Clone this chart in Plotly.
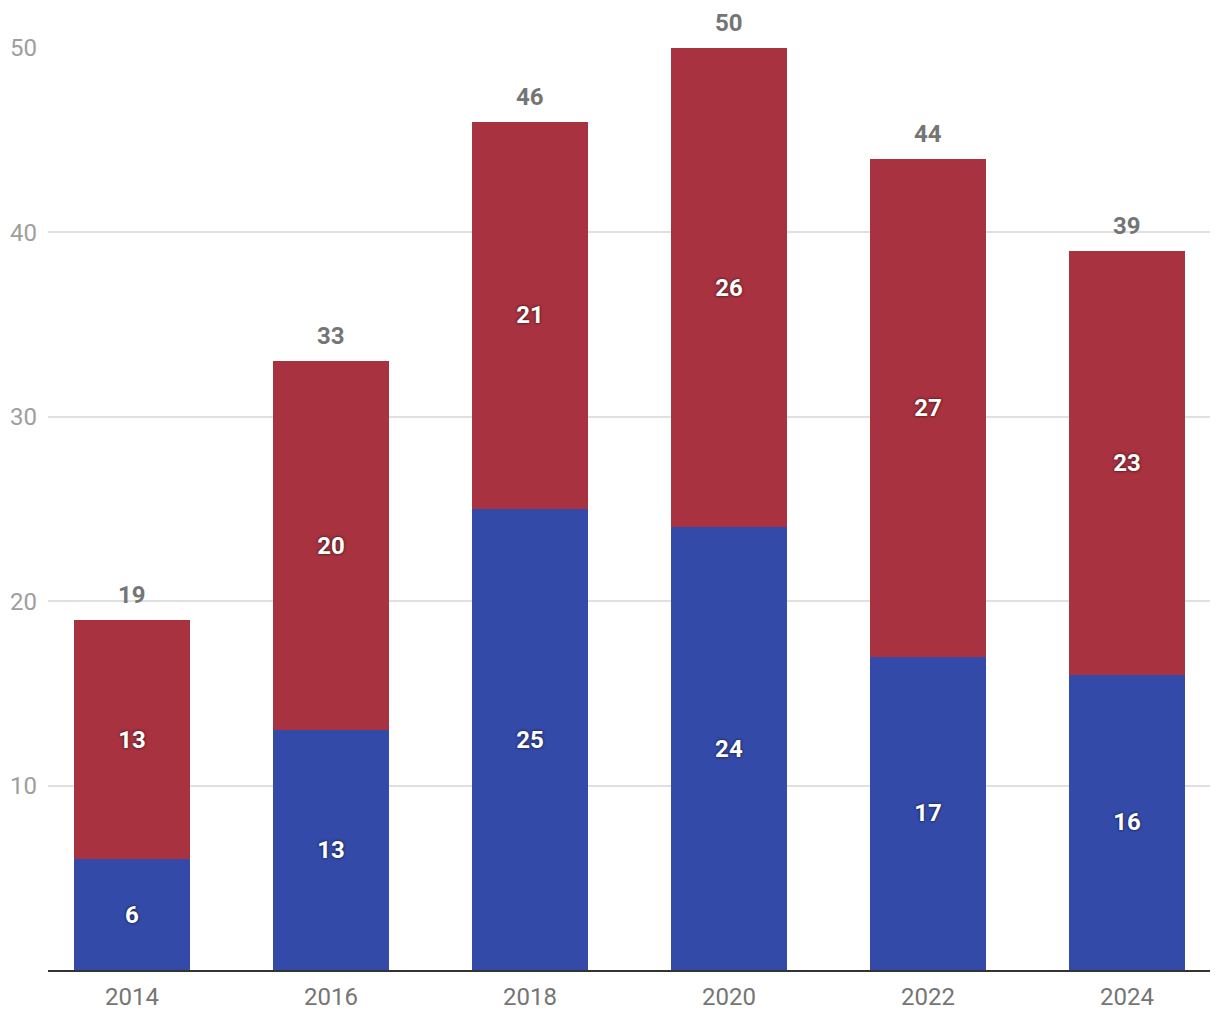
import plotly.graph_objects as go

years = ["2014", "2016", "2018", "2020", "2022", "2024"]
blue_vals = [6, 13, 25, 24, 17, 16]
red_vals = [13, 20, 21, 26, 27, 23]
totals = [b + r for b, r in zip(blue_vals, red_vals)]
x = list(range(len(years)))

RED = "#a8323f"
BLUE = "#334aa8"
shadow = "0px 0px 3px rgba(0,0,0,0.8)"
FS = 24

fig = go.Figure()
for vals, col in [(blue_vals, BLUE), (red_vals, RED)]:
    fig.add_trace(go.Bar(x=x, y=vals, marker=dict(color=col, line=dict(width=0)), width=0.58,
                         text=[str(v) for v in vals], textposition="inside",
                         insidetextanchor="middle", textangle=0,
                         textfont=dict(family="Roboto", size=FS, color="white", weight="bold", shadow=shadow),
                         hoverinfo="skip"))

for xi, t in zip(x, totals):
    fig.add_annotation(x=xi, y=t, text=str(t), showarrow=False, yanchor="middle",
                       yshift=25, font=dict(family="Roboto", size=FS, color="#757575", weight="bold"))

fig.update_layout(
    barmode="stack", width=1220, height=1020, showlegend=False,
    plot_bgcolor="white", paper_bgcolor="white",
    margin=dict(l=40, r=18, t=40, b=58),
    font=dict(family="Roboto"),
)
fig.update_xaxes(range=[-0.422, 5.417], tickvals=x, ticktext=years, showgrid=False,
                 showline=True, linecolor="#333333", linewidth=2, ticks="", automargin=False,
                 tickfont=dict(family="Roboto", size=FS, color="#757575"), zeroline=False,
                 ticklabelstandoff=4)
fig.update_yaxes(range=[0, 50], tickvals=[10, 20, 30, 40, 50], showgrid=True, automargin=False,
                 gridcolor="#e0e0e0", gridwidth=2, zeroline=False, showline=False,
                 tickfont=dict(family="Roboto", size=FS, color="#9e9e9e"), ticklabelstandoff=10)

fig.write_html("out.html")
